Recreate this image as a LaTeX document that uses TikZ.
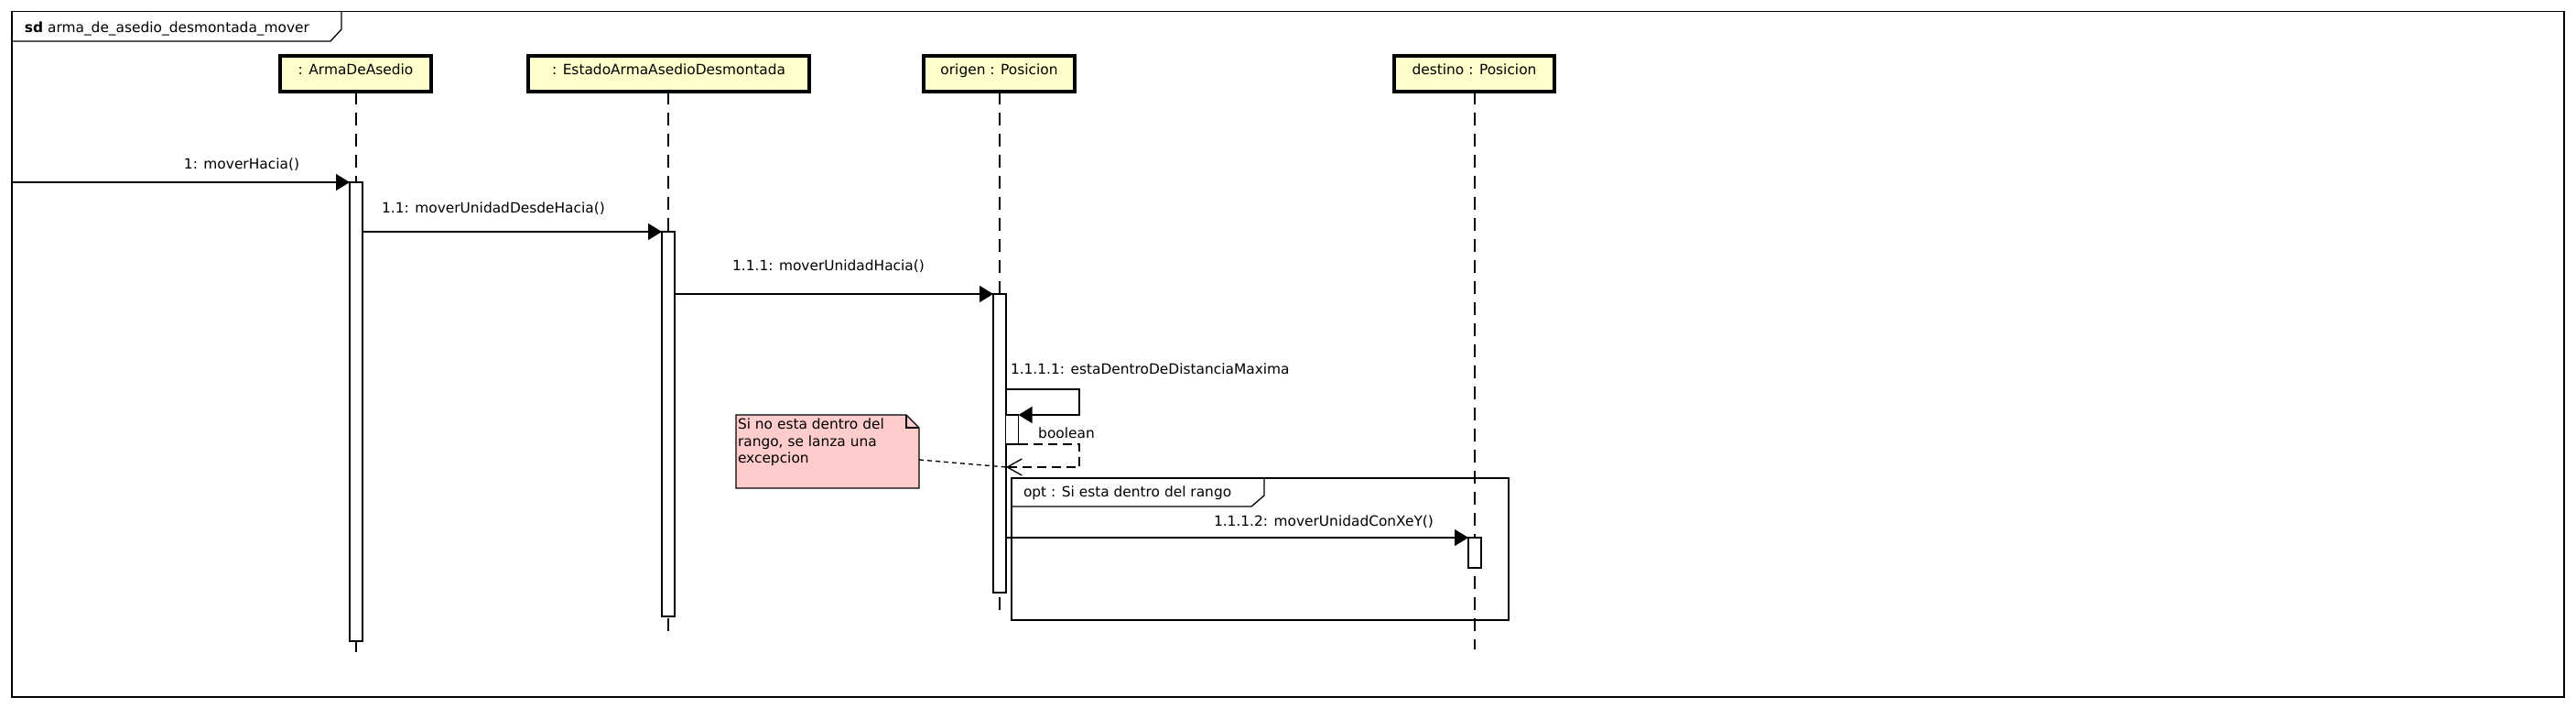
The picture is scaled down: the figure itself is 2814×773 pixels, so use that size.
\documentclass[tikz,border=0pt]{standalone}
\usepackage{fontspec}
\setmainfont{DejaVu Sans}
\usetikzlibrary{arrows.meta}
\definecolor{lifefill}{HTML}{FFFFCC}
\definecolor{notefill}{HTML}{FFCCCC}
\begin{document}
\begin{tikzpicture}[x=1pt,y=-1pt,
  every node/.style={font=\fontsize{15.4}{18.5}\selectfont, inner sep=0pt, outer sep=0pt},
  lbox/.style={draw, line width=4pt, fill=lifefill, minimum height=39pt, text height=21pt, text depth=18pt, inner ysep=0pt, anchor=north},
  actbox/.style={draw, line width=1.3pt, fill=white, minimum width=14pt, anchor=north},
  lifeline/.style={line width=1.2pt, dash pattern=on 14pt off 9pt},
  msg/.style={line width=1.4pt, -{Triangle[length=15pt,width=18pt]}},
  ret/.style={line width=1.3pt, dash pattern=on 10pt off 6pt, -{Straight Barb[length=16pt,width=18pt,line width=1.3pt]}},
  notelink/.style={line width=1.3pt, dash pattern=on 5pt off 4pt},
  framebox/.style={line width=1.8pt},
  tabline/.style={line width=1.3pt},
  lbl/.style={anchor=center}
]
\useasboundingbox (0,0) rectangle (2814,773);

% outer frame
\draw[framebox] (12.6,12.6) rectangle (2801,761);
\draw[tabline] (12.6,45) -- (361,45) -- (373,32) -- (373,12.6);
\node[anchor=west] (title) at (27,31) {{\bfseries sd} arma\_de\_asedio\_desmontada\_mover};

% lifeline heads
\node[lbox, minimum width=165pt] (A) at (388.5,61) {: ArmaDeAsedio};
\node[lbox, minimum width=307pt] (E) at (730.5,61) {: EstadoArmaAsedioDesmontada};
\node[lbox, minimum width=165pt] (O) at (1091.5,61) {origen : Posicion};
\node[lbox, minimum width=175pt] (D) at (1610.5,61) {destino : Posicion};

% lifeline ends
\coordinate (Aend) at (389,716);
\coordinate (Eend) at (730,692);
\coordinate (Oend) at (1092,668);
\coordinate (Dend) at (1611,709);

\draw[lifeline] (A.south -| Aend) -- (Aend);
\draw[lifeline] (E.south -| Eend) -- (Eend);
\draw[lifeline] (O.south -| Oend) -- (Oend);
\draw[lifeline] (D.south -| Dend) -- (Dend);

% opt fragment
\draw[tabline] (1105,522) rectangle (1648,677);
\draw[tabline] (1105,553) -- (1367,553) -- (1381,541) -- (1381,522);
\node[anchor=west] (optlbl) at (1118,538) {opt : Si esta dentro del rango};

% activations
\node[actbox, minimum height=501pt] (actA) at (389,199) {};
\node[actbox, minimum height=420pt] (actE) at (730,253) {};
\node[actbox, minimum height=326pt] (actO) at (1092,321) {};
\node[actbox, minimum height=32pt] (actO2) at (1105.5,453) {};
\node[actbox, minimum height=33pt] (actD) at (1611,587) {};

% note
\node[minimum width=200pt, minimum height=80pt, anchor=north west] (note) at (804,453) {};
\filldraw[fill=notefill, line width=1.3pt] (note.north west) -- ([xshift=-14pt]note.north east) -- ([yshift=-14pt]note.north east) -- (note.south east) -- (note.south west) -- cycle;
\draw[line width=1.1pt] ([xshift=-14pt]note.north east) |- ([yshift=-14pt]note.north east);
\node[anchor=north west, align=left] (notetxt) at (806,457) {Si no esta dentro del\\rango, se lanza una\\excepcion};

% messages
\coordinate (start) at (12.6,199);
\draw[msg] (start) -- (actA.north west);
\node[lbl] (l1) at (264,180) {1: moverHacia()};

\draw[msg] (actA.east |- actE.north) -- (actE.north west);
\node[lbl] (l2) at (539,228) {1.1: moverUnidadDesdeHacia()};

\draw[msg] (actE.east |- actO.north) -- (actO.north west);
\node[lbl] (l3) at (905,291) {1.1.1: moverUnidadHacia()};

\coordinate (selfS) at (1099,425);
\draw[msg] (actO.east |- selfS) -- (1179,425) |- (actO2.north east);
\node[anchor=west] (l4) at (1104,403) {1.1.1.1: estaDentroDeDistanciaMaxima};

\coordinate (retE) at (1099,510);
\draw[ret] (actO2.south east) -- (1179,485) |- (retE);
\node[lbl] (l5) at (1165,473) {boolean};

\draw[notelink] ([yshift=-9pt]note.east) -- (retE);

\draw[msg] (actO.east |- actD.north) -- (actD.north west);
\node[lbl] (l6) at (1446,570) {1.1.1.2: moverUnidadConXeY()};
\end{tikzpicture}
\end{document}
